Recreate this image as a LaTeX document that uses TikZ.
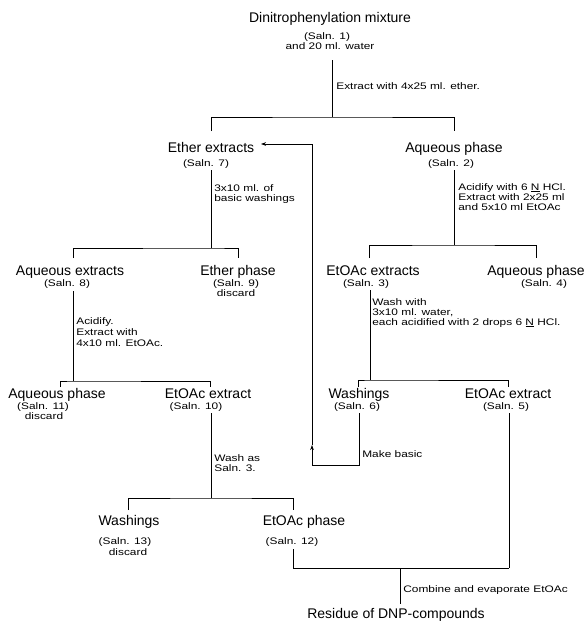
\documentclass[tikz,border=0pt]{standalone}
\usepackage{fontspec}
\setmainfont{Liberation Sans}
\newfontfamily\notefont[FakeStretch=1.25]{Liberation Sans}
\usetikzlibrary{arrows.meta}
\begin{document}
\begin{tikzpicture}[x=1pt,y=-1pt, line width=0.7pt,
  lbl/.style={inner sep=0pt, anchor=base, font=\fontsize{14}{16}\selectfont},
  sub/.style={inner sep=0pt, anchor=base, font=\notefont\fontsize{9.5}{11}\selectfont},
  note/.style={inner sep=0pt, anchor=base west, font=\notefont\fontsize{9.5}{11}\selectfont},
  tip/.style={-{Stealth[length=5pt,width=3.6pt]}}]
\useasboundingbox (0,0) rectangle (588,629);
% ---- texts ----
\node[lbl] (t1) at (330,22) {Dinitrophenylation mixture};
\node[sub] (t2) at (327,39) {(Saln. 1)};
\node[sub] (t3) at (330,49) {and 20 ml. water};
\node[note] (n0) at (336,89) {Extract with 4x25 ml. ether.};

\node[lbl] (a7) at (211,152) {Ether extracts};
\node[sub] (b7) at (206,166) {(Saln. 7)};
\node[lbl] (a2) at (454,152) {Aqueous phase};
\node[sub] (b2) at (451,166) {(Saln. 2)};
\node[note] (n7a) at (214,191) {3x10 ml. of};
\node[note] (n7b) at (214,201) {basic washings};
\node[note] (n2a) at (458,190) {Acidify with 6 \underline{N} HCl.};
\node[note] (n2b) at (458,200) {Extract with 2x25 ml};
\node[note] (n2c) at (458,210) {and 5x10 ml EtOAc};

\node[lbl] (a8) at (70,275) {Aqueous extracts};
\node[sub] (b8) at (67,286) {(Saln. 8)};
\node[lbl] (a9) at (238,275) {Ether phase};
\node[sub] (b9) at (236,286) {(Saln. 9)};
\node[sub] (c9) at (236,296) {discard};
\node[lbl] (a3) at (373,275) {EtOAc extracts};
\node[sub] (b3) at (366,286) {(Saln. 3)};
\node[lbl] (a4) at (536,275) {Aqueous phase};
\node[sub] (b4) at (544,286) {(Saln. 4)};

\node[note] (n8a) at (76,324) {Acidify.};
\node[note] (n8b) at (76,335) {Extract with};
\node[note] (n8c) at (76,346) {4x10 ml. EtOAc.};
\node[note] (n3a) at (372,305) {Wash with};
\node[note] (n3b) at (372,315) {3x10 ml. water,};
\node[note] (n3c) at (372,325) {each acidified with 2 drops 6 \underline{N} HCl.};

\node[lbl] (a11) at (57,398) {Aqueous phase};
\node[sub] (b11) at (43,409) {(Saln. 11)};
\node[sub] (c11) at (44,419) {discard};
\node[lbl] (a10) at (208,398) {EtOAc extract};
\node[sub] (b10) at (196,409) {(Saln. 10)};
\node[lbl] (a6) at (359,398) {Washings};
\node[sub] (b6) at (357,409) {(Saln. 6)};
\node[lbl] (a5) at (508,398) {EtOAc extract};
\node[sub] (b5) at (506,409) {(Saln. 5)};

\node[note] (n10a) at (214,461) {Wash as};
\node[note] (n10b) at (214,471) {Saln. 3.};
\node[note] (n6) at (362,457) {Make basic};

\node[lbl] (a13) at (129,525) {Washings};
\node[sub] (b13) at (125,544) {(Saln. 13)};
\node[sub] (c13) at (128,555) {discard};
\node[lbl] (a12) at (304,525) {EtOAc phase};
\node[sub] (b12) at (292,544) {(Saln. 12)};

\node[note] (nf) at (403,592) {Combine and evaporate EtOAc};
\node[lbl] (res) at (396,618) {Residue of DNP-compounds};

% ---- junction coordinates ----
\coordinate (s0) at (332,60);
\coordinate (j0) at (332,117);
\coordinate (p7) at (211,131);
\coordinate (p2) at (454,131);

\coordinate (s7) at (211,170);
\coordinate (j7) at (211,248);
\coordinate (p8) at (73,258);
\coordinate (p9) at (238,258);

\coordinate (s2) at (454,170);
\coordinate (j2) at (454,245);
\coordinate (p3) at (369,258);
\coordinate (p4) at (536,258);

\coordinate (s8) at (73,291);
\coordinate (j8) at (73,381);
\coordinate (p11) at (60,387);
\coordinate (p10) at (210,387);

\coordinate (s3) at (370,290);
\coordinate (j3) at (370,380);
\coordinate (p6) at (358,387);
\coordinate (p5) at (508,387);

\coordinate (s10) at (211,413);
\coordinate (j10) at (211,498);
\coordinate (p13) at (128,510);
\coordinate (p12) at (293,510);

\coordinate (s6) at (359,413);
\coordinate (k3) at (359,465);
\coordinate (k2) at (312,465);
\coordinate (km) at (312,445);
\coordinate (k1) at (312,144);
\coordinate (k0) at (261,144);

\coordinate (s5) at (509,413);
\coordinate (s12) at (293,549);
\coordinate (jf) at (400,568);
\coordinate (e5) at (509,568);
\coordinate (ef) at (400,604);

% ---- connectors ----
\draw (s0) -- (j0);
\draw (p7) |- (j0) -| (p2);
\draw (s7) -- (j7);
\draw (p8) |- (j7) -| (p9);
\draw (s2) -- (j2);
\draw (p3) |- (j2) -| (p4);
\draw (s8) -- (j8);
\draw (p11) |- (j8) -| (p10);
\draw (s3) -- (j3);
\draw (p6) |- (j3) -| (p5);
\draw (s10) -- (j10);
\draw (p13) |- (j10) -| (p12);
\draw (s6) -- (k3) -- (k2);
\draw[tip] (k2) -- (km);
\draw (km) -- (k1);
\draw[tip] (k1) -- (k0);
\draw (s5) -- (e5);
\draw (s12) |- (e5);
\draw (jf) -- (ef);
\end{tikzpicture}
\end{document}
